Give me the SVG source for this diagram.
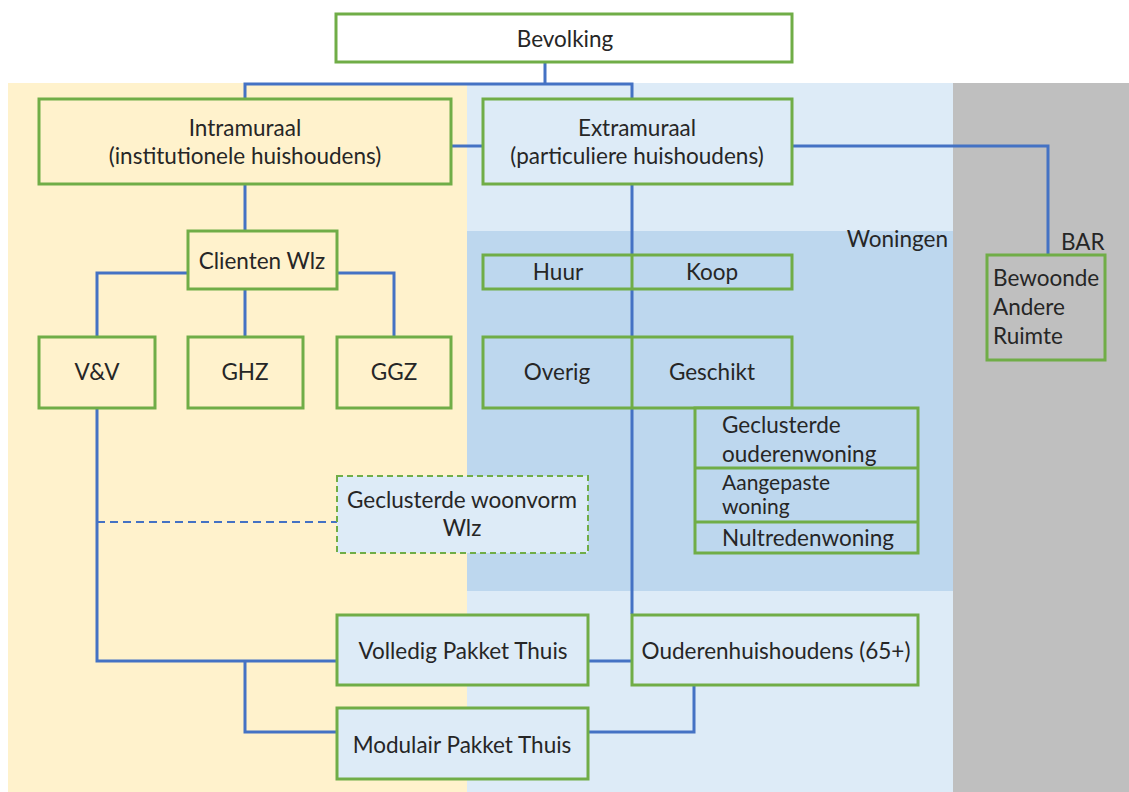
<svg xmlns="http://www.w3.org/2000/svg" width="1129" height="792" viewBox="0 0 1129 792">
<style>
.box{stroke:#70AD47;stroke-width:3}
.dash{stroke:#70AD47;stroke-width:2;stroke-dasharray:6 4}
.c{fill:none;stroke:#4472C4;stroke-width:3}
.cd{fill:none;stroke:#4472C4;stroke-width:2;stroke-dasharray:8 5}
text{font-family:Lato,"Liberation Sans",sans-serif;font-size:22.5px;fill:#262626}
.m{text-anchor:middle}
.s{font-size:21px}
</style>
<rect x="0" y="0" width="1129" height="792" fill="#ffffff"/>
<g id="backgrounds">
<rect x="8" y="83" width="459" height="709" fill="#FFF2CC"/>
<rect x="467" y="83" width="486" height="709" fill="#DDEBF7"/>
<rect x="467" y="231" width="486" height="360" fill="#BDD7EE"/>
<rect x="953" y="83" width="176" height="709" fill="#BFBFBF"/>
<text x="948" y="247" text-anchor="end">Woningen</text>
<text x="1061" y="250">BAR</text>
</g>
<g id="connectors">
<path class="c" d="M545 62V84M245 99V84H632V99"/>
<path class="c" d="M451 146H483"/>
<path class="c" d="M792 146H1048V255"/>
<path class="c" d="M632 184V614"/>
<path class="c" d="M245 184V231"/>
<path class="c" d="M188 273H97V337M337 273H394V337M245 289V337"/>
<path class="c" d="M97 408V661H337M245 661V732H337"/>
<path class="cd" d="M97 522H337"/>
<path class="c" d="M588 661H632"/>
<path class="c" d="M694 685V732H588"/>
</g>
<g id="bevolking"><rect class="box" x="336" y="14" width="456" height="48" fill="#ffffff"/><text class="m" x="565" y="47">Bevolking</text></g>
<g id="intramuraal"><rect class="box" x="39" y="99" width="412" height="85" fill="#FFF2CC"/><text class="m" x="245" y="136">Intramuraal</text><text class="m" x="245" y="164">(institutionele huishoudens)</text></g>
<g id="extramuraal"><rect class="box" x="483" y="99" width="309" height="85" fill="#DDEBF7"/><text class="m" x="637" y="136">Extramuraal</text><text class="m" x="637" y="164">(particuliere huishoudens)</text></g>
<g id="bar"><rect class="box" x="987" y="255" width="118" height="105" fill="#BFBFBF"/><text x="993" y="286">Bewoonde</text><text x="993" y="315">Andere</text><text x="993" y="344">Ruimte</text></g>
<g id="huur-koop"><rect class="box" x="483" y="255" width="309" height="34" fill="#BDD7EE"/><line class="box" x1="632" y1="255" x2="632" y2="289"/><text class="m" x="558" y="280">Huur</text><text class="m" x="712" y="280">Koop</text></g>
<g id="overig-geschikt"><rect class="box" x="483" y="337" width="309" height="71" fill="#BDD7EE"/><line class="box" x1="632" y1="337" x2="632" y2="408"/><text class="m" x="557" y="380">Overig</text><text class="m" x="712" y="380">Geschikt</text></g>
<g id="geschikt-types"><rect class="box" x="695" y="408" width="223" height="145" fill="#BDD7EE"/><line class="box" x1="695" y1="468" x2="918" y2="468"/><line class="box" x1="695" y1="522" x2="918" y2="522"/><text x="722" y="433">Geclusterde</text><text x="722" y="462">ouderenwoning</text><text class="s" x="722" y="490">Aangepaste</text><text class="s" x="722" y="514">woning</text><text x="722" y="546">Nultredenwoning</text></g>
<g id="clienten-wlz"><rect class="box" x="188" y="231" width="149" height="58" fill="#FFF2CC"/><text class="m" x="262" y="269">Clienten Wlz</text></g>
<g id="vv"><rect class="box" x="39" y="337" width="116" height="71" fill="#FFF2CC"/><text class="m" x="97" y="380">V&amp;V</text></g>
<g id="ghz"><rect class="box" x="188" y="337" width="115" height="71" fill="#FFF2CC"/><text class="m" x="245" y="380">GHZ</text></g>
<g id="ggz"><rect class="box" x="337" y="337" width="114" height="71" fill="#FFF2CC"/><text class="m" x="394" y="380">GGZ</text></g>
<g id="geclusterde-woonvorm"><rect class="dash" x="337" y="476" width="251" height="77" fill="#DDEBF7"/><text class="m" x="462" y="508">Geclusterde woonvorm</text><text class="m" x="462" y="536">Wlz</text></g>
<g id="volledig"><rect class="box" x="337" y="615" width="251" height="70" fill="#DDEBF7"/><text class="m" x="463" y="659">Volledig Pakket Thuis</text></g>
<g id="modulair"><rect class="box" x="337" y="708" width="251" height="71" fill="#DDEBF7"/><text class="m" x="462" y="753">Modulair Pakket Thuis</text></g>
<g id="ouderen"><rect class="box" x="632" y="615" width="286" height="70" fill="#DDEBF7"/><text class="m" x="776" y="659">Ouderenhuishoudens (65+)</text></g>
</svg>
